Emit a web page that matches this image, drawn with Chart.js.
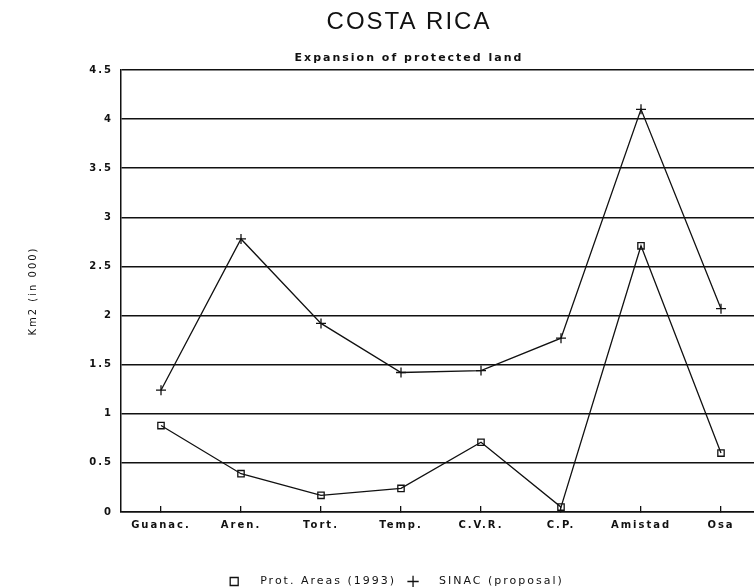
<!DOCTYPE html>
<html>
<head>
<meta charset="utf-8">
<script src="https://cdn.jsdelivr.net/npm/chart.js@4"></script>
<style>
  html, body { margin: 0; padding: 0; background: #fff; overflow: hidden; }
  #wrap { width: 816px; height: 587px; }
</style>
</head>
<body>
<div id="wrap"><canvas id="c" width="816" height="587"></canvas></div>
<script>
// ---- data ----
const categories = ['Guanac.', 'Aren.', 'Tort.', 'Temp.', 'C.V.R.', 'C.P.', 'Amistad', 'Osa'];
const protAreas1993 = [0.88, 0.39, 0.17, 0.24, 0.71, 0.05, 2.71, 0.60];
const sinacProposal = [1.24, 2.78, 1.92, 1.42, 1.44, 1.77, 4.10, 2.07];
const seriesNames = ['Prot. Areas (1993)', 'SINAC (proposal)'];
const yTickLabels = ['0', '0.5', '1', '1.5', '2', '2.5', '3', '3.5', '4', '4.5'];
const chartTitle = 'COSTA RICA';
const chartSubtitle = 'Expansion of protected land';
const yAxisTitle = 'Km2 (in 000)';

const INK = '#111';
const tickFont = { family: '"DejaVu Sans", sans-serif', size: 10, weight: 'bold' };

const spacing = {
  id: 'spacing',
  beforeLayout(chart) { chart.ctx.letterSpacing = '2px'; },
  beforeDraw(chart) { chart.ctx.letterSpacing = '2px'; }
};

// place title/subtitle/legend horizontally like the reference page
const placeBlocks = {
  id: 'placeBlocks',
  afterLayout(chart) {
    chart.boxes.forEach((b) => {
      const isTitle = b === chart.titleBlock || (b.options && b.options.text === chartSubtitle);
      if (isTitle) { b.left = 0; b.right = 818; }
    });
    const lg = chart.legend;
    if (lg) {
      lg.left = 0; lg.right = 794;
      lg.top += 10; lg.bottom += 10;
    }
  }
};

new Chart(document.getElementById('c'), {
  type: 'line',
  data: {
    labels: categories,
    datasets: [
      {
        label: seriesNames[0],
        data: protAreas1993,
        borderColor: INK,
        borderWidth: 1.3,
        backgroundColor: 'rgba(0,0,0,0)',
        pointStyle: 'rect',
        pointRadius: 4.5,
        pointBorderColor: INK,
        pointBackgroundColor: 'rgba(0,0,0,0)',
        pointBorderWidth: 1.3,
        tension: 0
      },
      {
        label: seriesNames[1],
        data: sinacProposal,
        borderColor: INK,
        borderWidth: 1.3,
        backgroundColor: 'rgba(0,0,0,0)',
        pointStyle: 'cross',
        pointRadius: 5,
        pointBorderColor: INK,
        pointBorderWidth: 1.3,
        tension: 0
      }
    ]
  },
  options: {
    responsive: false,
    animation: false,
    devicePixelRatio: 1,
    layout: { padding: { left: 0, right: 55, top: 0, bottom: 0 } },
    plugins: {
      title: {
        display: true,
        text: chartTitle,
        color: INK,
        font: { family: '"Liberation Sans", Arial, sans-serif', size: 24, weight: 'normal' },
        padding: { top: 8, bottom: 0 }
      },
      subtitle: {
        display: true,
        text: chartSubtitle,
        color: INK,
        font: { family: '"DejaVu Sans", sans-serif', size: 11, weight: 'bold' },
        padding: { top: 14.6, bottom: 5.4 }
      },
      legend: {
        position: 'bottom',
        labels: {
          color: INK,
          font: { family: '"DejaVu Sans", sans-serif', size: 11, weight: 'normal' },
          usePointStyle: true,
          boxWidth: 8,
          boxHeight: 8,
          padding: 13,
          generateLabels(chart) {
            const items = Chart.defaults.plugins.legend.labels.generateLabels(chart);
            items.forEach((it) => { it.text = '   ' + it.text; });
            return items;
          }
        }
      },
      tooltip: { enabled: false }
    },
    scales: {
      x: {
        type: 'category',
        offset: true,
        grid: {
          display: true,
          drawOnChartArea: false,
          drawTicks: true,
          tickLength: -6,
          color: INK,
          lineWidth: 1.3
        },
        border: { display: true, color: INK, width: 1.5 },
        ticks: { color: INK, font: tickFont, padding: 13.5, maxRotation: 0, autoSkip: false },
        afterFit(scale) { scale.height = 41; }
      },
      y: {
        min: 0,
        max: 4.5,
        grid: { color: INK, lineWidth: 1.5, drawTicks: false },
        border: { display: true, color: INK, width: 1.5 },
        ticks: {
          stepSize: 0.5,
          color: INK,
          font: tickFont,
          padding: 8,
          callback: (v) => yTickLabels[Math.round(v * 2)]
        },
        title: {
          display: true,
          text: yAxisTitle,
          color: INK,
          font: { family: '"DejaVu Sans", sans-serif', size: 10, weight: 'normal' },
          padding: { top: 27, bottom: 0 }
        },
        afterFit(scale) { scale.width = 121; }
      }
    }
  },
  plugins: [spacing, placeBlocks]
});
</script>
</body>
</html>
